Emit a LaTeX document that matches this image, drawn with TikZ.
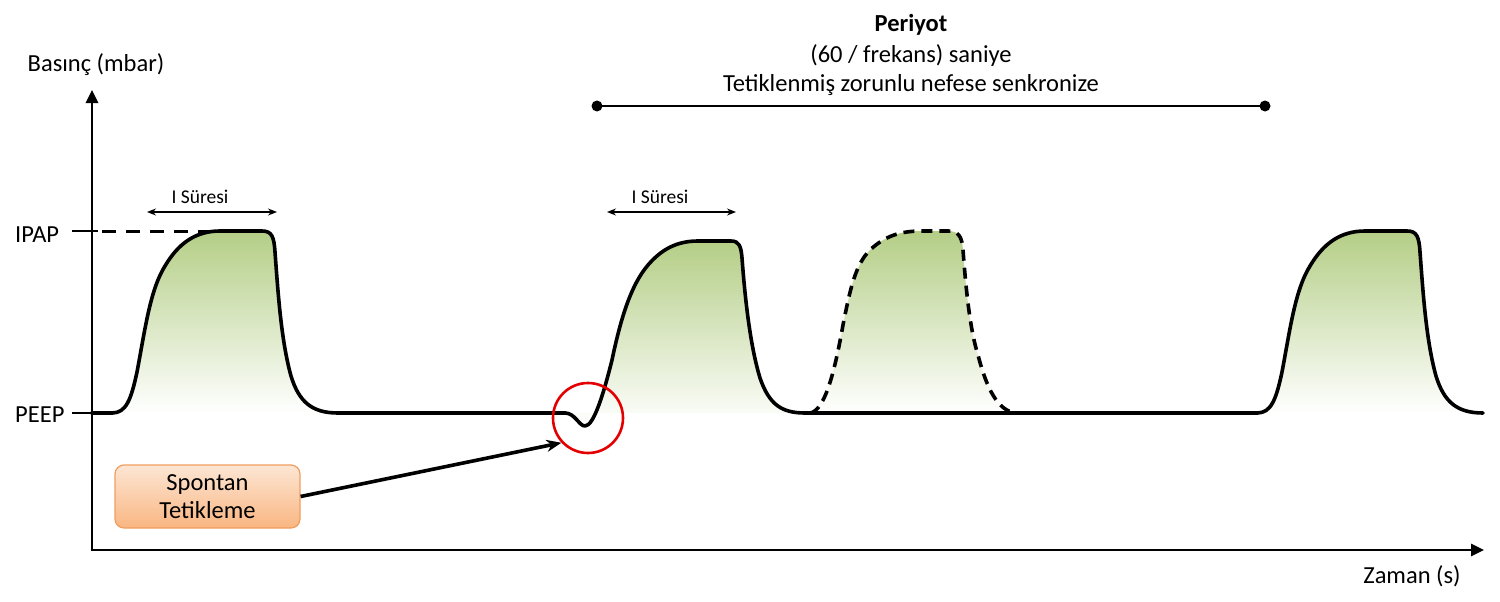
\documentclass[tikz,border=0pt]{standalone}
\usepackage{fontspec}
\setmainfont{Carlito}
\usetikzlibrary{arrows.meta}
\definecolor{gtop}{RGB}{180,206,134}
\definecolor{boxtop}{RGB}{253,230,212}
\definecolor{boxbot}{RGB}{249,182,130}
\definecolor{boxedge}{RGB}{240,158,96}
\definecolor{trigred}{RGB}{228,0,0}
\def\pulseA{(112,413) .. controls (126,413) and (131,400) .. (137,372) .. controls (145,330) and (150,290) .. (165,266) .. controls (178,244) and (195,231) .. (220,231) -- (262,231) .. controls (272,231) and (274,237) .. (275,252) .. controls (278,292) and (281,340) .. (291,376) .. controls (299,402) and (312,413) .. (338,413)}
\def\pulseB{(565,413) .. controls (575,413) and (579,426) .. (585,426) .. controls (594,426) and (604,392) .. (612,360) .. controls (620,322) and (630,286) .. (648,265) .. controls (661,250) and (676,241) .. (698,241) -- (731,241) .. controls (739,241) and (741,246) .. (742,258) .. controls (745,298) and (750,345) .. (760,378) .. controls (769,404) and (781,413) .. (805,413)}
\def\pulseC{(810,413) .. controls (825,411) and (835,370) .. (843,325) .. controls (850,290) and (855,265) .. (870,250) .. controls (885,236) and (900,231) .. (922,231) -- (948,231) .. controls (958,231) and (962,236) .. (963,250) .. controls (966,290) and (970,330) .. (978,355) .. controls (987,390) and (998,410) .. (1015,413)}
\begin{document}
\begin{tikzpicture}[x=1pt,y=-1pt,
  lbl/.style={inner sep=0pt, font=\fontsize{24.5}{28}\selectfont},
  small/.style={inner sep=0pt, font=\fontsize{19.5}{22}\selectfont},
  wave/.style={line width=3.6pt, line cap=round, line join=round},
  wavefill/.style={top color=gtop, bottom color=white, draw=none},
  tick/.style={line width=1.8pt},
  span/.style={line width=1.3pt, {Stealth[length=9pt,width=7pt]}-{Stealth[length=9pt,width=7pt]}},
]
\useasboundingbox (0,0) rectangle (1500,602);

% fills
\path[wavefill] \pulseA;
\path[wavefill] \pulseB;
\path[wavefill] \pulseC;
\begin{scope}[xshift=1145pt]
\path[wavefill] \pulseA;
\end{scope}

% axes
\coordinate (origin) at (92,550);
\coordinate (ytip) at (92,90);
\coordinate (xtip) at (1484,550);
\draw[line width=2.6pt, {Triangle[length=13pt,width=12pt]}-{Triangle[length=13pt,width=12pt]}] (ytip) -- (origin) -- (xtip);

% labels
\node[lbl, anchor=base] (ylab) at (96,71) {Basınç (mbar)};
\node[lbl, anchor=base] (xlab) at (1412,583) {Zaman (s)};
\node[lbl, anchor=base west] (ipap) at (15,242) {IPAP};
\node[lbl, anchor=base west] (peep) at (15,422) {PEEP};

% ticks
\coordinate (ipapA) at (72,231);
\coordinate (ipapB) at (98,231);
\coordinate (ipapC) at (102,231);
\coordinate (ipapD) at (217,231);
\coordinate (peepA) at (72,413);
\coordinate (peepB) at (92,413);
\draw[tick] (ipapA) -- (ipapB);
\draw[line width=3pt, dash pattern=on 14pt off 10pt] (ipapC) -- (ipapD);
\draw[tick] (peepA) -- (peepB);

% waveform
\draw[wave] (92,413) -- (112,413);
\draw[wave] \pulseA;
\draw[wave] (338,413) -- (565,413);
\draw[wave] \pulseB;
\draw[wave] (805,413) -- (1257,413);
\begin{scope}[xshift=1145pt]
\draw[wave] \pulseA;
\end{scope}
\draw[line width=3.6pt, line cap=butt, dash pattern=on 11pt off 7pt] \pulseC;

% I Suresi
\node[small, anchor=base] (is1) at (200,203) {I Süresi};
\coordinate (s1a) at (147,212);
\coordinate (s1b) at (277,212);
\draw[span] (s1a) -- (s1b);
\node[small, anchor=base] (is2) at (660,203) {I Süresi};
\coordinate (s2a) at (607,212);
\coordinate (s2b) at (736,212);
\draw[span] (s2a) -- (s2b);

% period
\node[lbl, anchor=base] (per) at (911,32) {\textbf{Periyot}};
\node[lbl, anchor=base] (freq) at (911,63) {(60 / frekans) saniye};
\node[lbl, anchor=base] (sync) at (911,92) {Tetiklenmiş zorunlu nefese senkronize};
\coordinate (pl) at (597,106);
\coordinate (pr) at (1265,106);
\draw[line width=2.2pt] (pl) -- (pr);
\fill (pl) circle (5.5);
\fill (pr) circle (5.5);

% trigger
\node[circle, draw=trigred, line width=2.6pt, minimum size=70pt, inner sep=0pt] (trig) at (588,418) {};
\node[lbl, align=center, rounded corners=9pt, draw=boxedge, line width=1.2pt, top color=boxtop, bottom color=boxbot, minimum width=185pt, minimum height=63pt] (spont) at (207.5,496.5) {Spontan\\Tetikleme};
\draw[line width=3.6pt, -{Stealth[length=15pt,width=12pt]}] (spont.east) -- (trig.223);
\end{tikzpicture}
\end{document}
